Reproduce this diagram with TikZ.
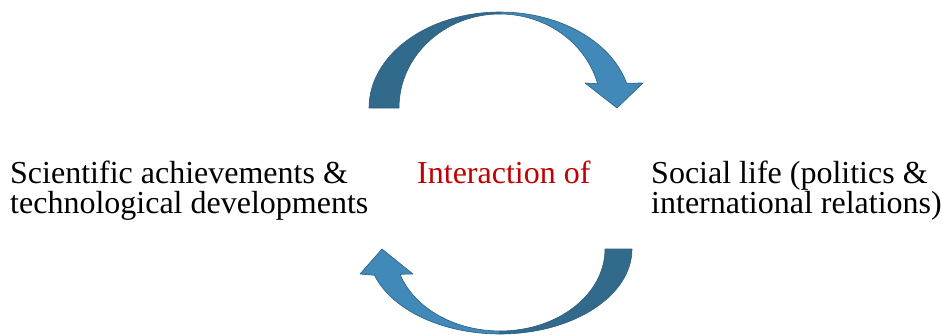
\documentclass[tikz,border=0pt]{standalone}
\usepackage{fontspec}
\setmainfont{Liberation Serif}
\begin{document}
\begin{tikzpicture}[x=1pt,y=1pt,
  darkband/.style={fill=arrowdark,draw=arroweedge,line width=0.6pt,line join=round},
  lightband/.style={fill=arrowlight,draw=arroweedge,line width=0.6pt,line join=round},
  label/.style={anchor=base west,inner sep=0pt,font=\fontsize{32}{30}\selectfont}]
\definecolor{arrowdark}{RGB}{50,106,140}
\definecolor{arrowlight}{RGB}{64,137,184}
\definecolor{arroweedge}{RGB}{44,94,126}
\definecolor{midred}{RGB}{192,0,0}
\useasboundingbox (0,0) rectangle (942,-335);

% upper curved arrow (left to right)
\path[darkband] (369,-108) arc[start angle=180,end angle=90,x radius=131,y radius=96]
  -- (500,-14) arc[start angle=90,end angle=180,x radius=101,y radius=94] -- cycle;
\path[lightband] (500,-12) arc[start angle=90,end angle=15,x radius=131,y radius=96]
  -- (643,-83) -- (617,-108) -- (585,-83) -- (597.6,-83.7)
  arc[start angle=15,end angle=90,x radius=101,y radius=94] -- cycle;

% lower curved arrow (right to left)
\path[darkband] (632,-249) arc[start angle=0,end angle=-90,x radius=132,y radius=85]
  -- (500,-331) arc[start angle=-90,end angle=0,x radius=105,y radius=82] -- cycle;
\path[lightband] (500,-334) arc[start angle=-90,end angle=-162,x radius=132,y radius=85]
  -- (360,-274) -- (382,-249) -- (413,-274) -- (400.1,-274.3)
  arc[start angle=-162,end angle=-90,x radius=105,y radius=82] -- cycle;

% texts
\node[label] (sci1) at (10,-183) {Scientific achievements \&};
\node[label] (sci2) at (10,-213) {technological developments};
\node[label,text=midred] (mid) at (417,-183) {Interaction of};
\node[label] (soc1) at (651,-183) {Social life (politics \&};
\node[label] (soc2) at (651,-213) {international relations)};
\end{tikzpicture}
\end{document}
